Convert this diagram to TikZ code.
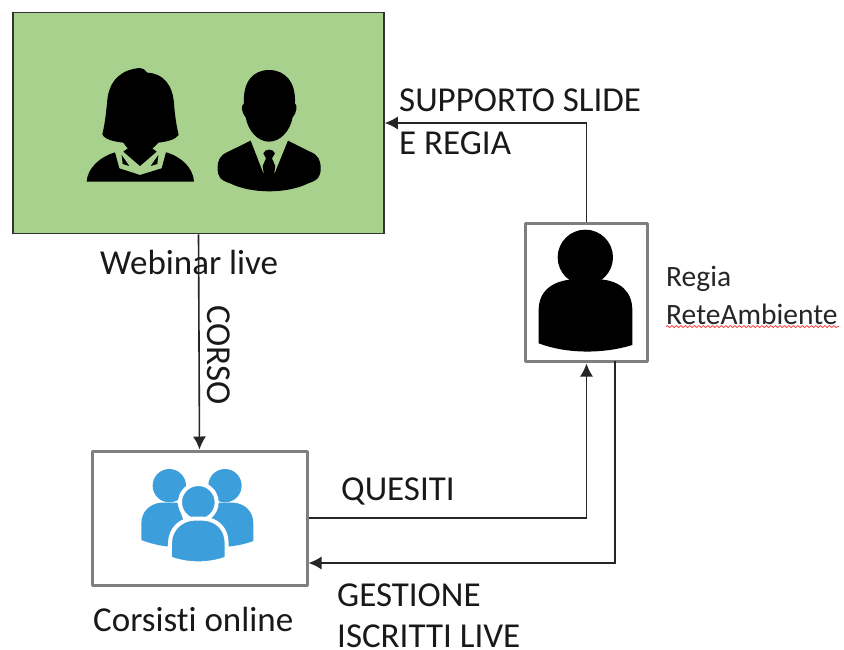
\documentclass[tikz,border=0pt]{standalone}
\usepackage{fontspec}
\setmainfont[RawFeature={-liga}]{Carlito}
\usetikzlibrary{arrows.meta,decorations.pathmorphing}
\definecolor{webgreen}{HTML}{A9D18E}
\definecolor{boxgray}{HTML}{7F7F7F}
\definecolor{iconblue}{HTML}{3C9FDC}
\tikzset{
 x=1pt,y=-1pt,
 box/.style={draw=boxgray,line width=3pt,fill=white,inner sep=0pt,line join=round},
 arr/.style={draw=black!85,line width=1.6pt,-{Latex[length=13pt,width=13pt]}},
 lab/.style={inner sep=0pt,anchor=west,text=black!90,font=\fontsize{35}{40}\selectfont},
 small/.style={inner sep=0pt,anchor=west,text=black!85,font=\fontsize{29.5}{34}\selectfont},
 blue/.style={fill=iconblue,draw=white,line width=4pt},
}
\begin{document}
\begin{tikzpicture}
\useasboundingbox (0,0) rectangle (844,649);
\fill[white] (0,0) rectangle (844,649);
% boxes
\node[draw=black!80,line width=1.5pt,fill=webgreen,inner sep=0pt,minimum width=371pt,minimum height=221pt] (web) at (198.5,123) {};
\node[box,minimum width=122pt,minimum height=138pt] (regia) at (586.5,292) {};
\node[box,minimum width=215pt,minimum height=134pt] (cors) at (199.5,518) {};
% woman
\begin{scope}[shift={(60,40)},x=0.3333pt,y=-0.3333pt]
\fill[black] (240,84) .. controls (250,84) and (255,90) .. (262,98)
  .. controls (310,100) and (338,135) .. (342,190)
  .. controls (345,230) and (350,260) .. (356,285)
  .. controls (345,300) and (320,305) .. (295,308)
  .. controls (280,325) and (262,340) .. (240,345)
  .. controls (218,340) and (200,325) .. (190,308)
  .. controls (165,305) and (135,300) .. (127,283)
  .. controls (135,250) and (138,220) .. (142,180)
  .. controls (148,120) and (185,88) .. (240,84) -- cycle;
\fill[black] (165,337) -- (178,385) -- (240,405) -- (305,385) -- (318,337)
  .. controls (365,350) and (400,385) .. (402,425) -- (80,425)
  .. controls (82,385) and (120,350) .. (165,337) -- cycle;
\fill[black] (190,335) -- (240,378) -- (290,335) -- (270,320) -- (210,320) -- cycle;
\fill[black] (185,345) -- (208,378) -- (188,372) -- cycle;
\fill[black] (295,345) -- (272,378) -- (292,372) -- cycle;
% man
\fill[black] (627,90) .. controls (675,90) and (708,125) .. (705,190)
  .. controls (712,195) and (712,215) .. (698,232)
  .. controls (690,275) and (660,305) .. (627,305)
  .. controls (595,305) and (565,275) .. (557,232)
  .. controls (543,215) and (543,195) .. (552,190)
  .. controls (548,125) and (580,90) .. (627,90) -- cycle;
\fill[black] (572,302) -- (612,405) -- (608,378) -- (618,355) -- (610,340)
  .. controls (615,325) and (640,325) .. (645,340) -- (636,355) -- (646,378) -- (642,405)
  -- (684,302) -- (750,335) .. controls (775,345) and (782,360) .. (782,385)
  .. controls (782,410) and (775,420) .. (745,430)
  .. controls (680,462) and (575,462) .. (510,430)
  .. controls (480,420) and (473,410) .. (473,385)
  .. controls (473,360) and (480,345) .. (505,335) -- cycle;
\end{scope}
% regia person
\begin{scope}[shift={(510,210)},x=0.3333pt,y=-0.3333pt]
\fill[black] (226,142) circle[radius=83];
\fill[black] (86,400) -- (86,300) .. controls (86,245) and (125,212) .. (190,208)
  -- (270,208) .. controls (330,212) and (367,245) .. (367,300) -- (367,405)
  .. controls (280,432) and (170,432) .. (86,400) -- cycle;
\end{scope}
% group icon
\begin{scope}[shift={(90,440)},x=0.3333pt,y=-0.3333pt]
\fill[iconblue] (238,137) circle[radius=50];
\fill[iconblue] (405,137) circle[radius=50];
\fill[iconblue] (154,300) -- (154,250) .. controls (154,215) and (180,190) .. (215,188)
  -- (262,188) -- (300,300) -- (240,320) .. controls (210,318) and (180,310) .. (154,300) -- cycle;
\fill[iconblue] (490,303) -- (490,250) .. controls (490,215) and (465,190) .. (430,188)
  -- (380,188) -- (340,300) -- (410,320) .. controls (440,318) and (465,312) .. (490,303) -- cycle;
\path[blue] (325,187) circle[radius=55];
\path[blue] (240,355) -- (240,310) .. controls (240,265) and (275,238) .. (310,236)
  -- (340,236) .. controls (380,238) and (410,265) .. (410,310) -- (410,355)
  .. controls (360,375) and (290,375) .. (240,355) -- cycle;
\end{scope}
% connectors
\coordinate (corsin) at (cors.east |- 0,563);
\coordinate (regout) at (615,361);
\coordinate (corsout) at (cors.east);
\draw[arr] (web.south) -- (cors.north);
\draw[arr] (regia.north) |- (web.east);
\draw[arr,shorten >=1pt] (corsout) -| (regia.south);
\draw[arr] (regout) |- (corsin);
% labels
\node[lab] (lw) at (100,262) {Webinar live};
\node[lab,rotate=-90] (lc) at (219,305) {CORSO};
\node[lab] (ls1) at (399,100) {SUPPORTO SLIDE};
\node[lab] (ls2) at (399,143) {E REGIA};
\node[lab] (lq) at (341,491) {QUESITI};
\node[lab] (lg1) at (337,595) {GESTIONE};
\node[lab] (lg2) at (337,636) {ISCRITTI LIVE};
\node[lab] (lo) at (93,619) {Corsisti online};
\node[small] (lr1) at (666,279) {Regia};
\node[small] (lr2) at (666,314) {ReteAmbiente};
\draw[red!75,line width=0.8pt,decorate,decoration={snake,amplitude=1pt,segment length=4.5pt}]
  (lr2.south west) ++(0,2) -- ++(173,0);
\end{tikzpicture}
\end{document}
